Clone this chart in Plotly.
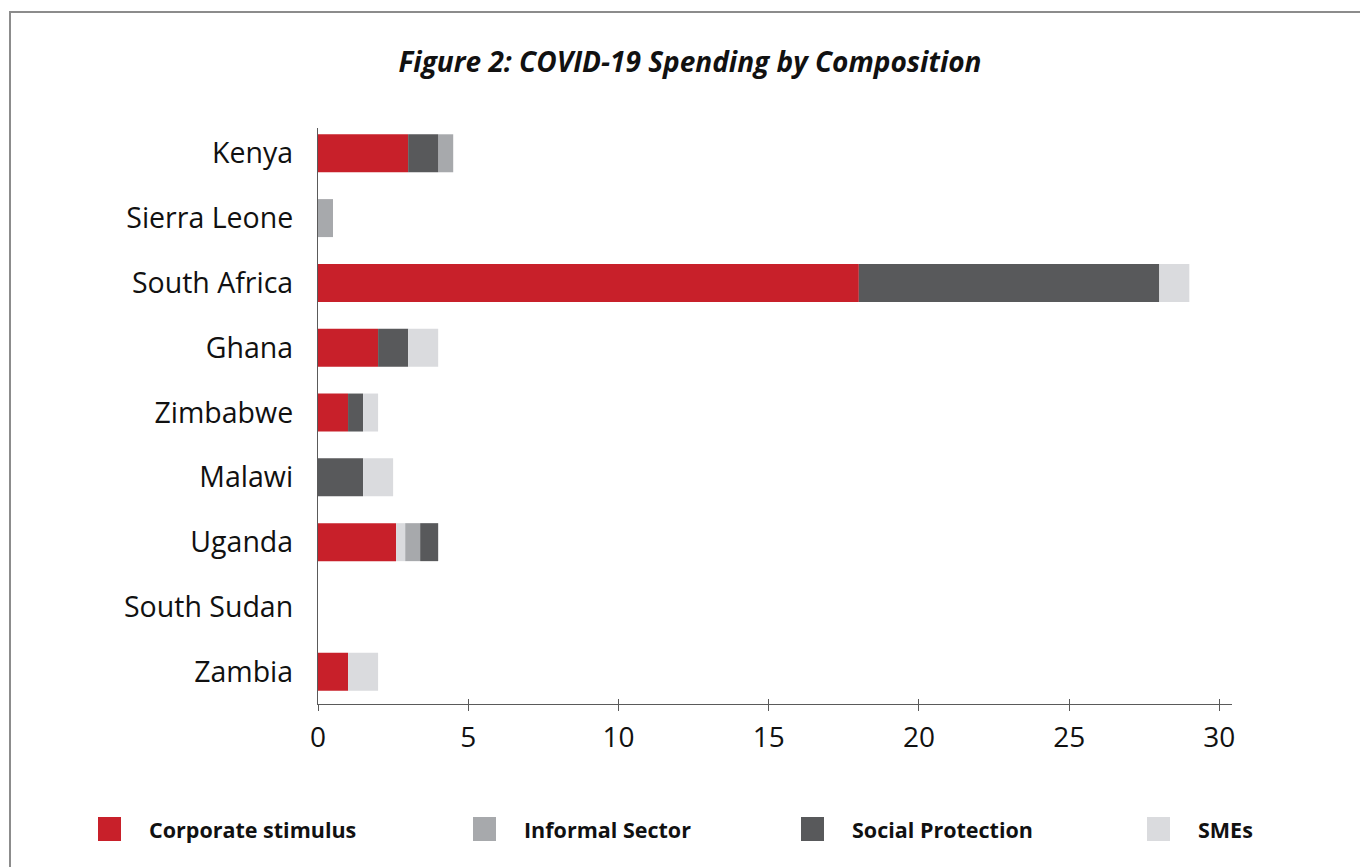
import plotly.graph_objects as go

# ---- data ----
countries = ["Kenya", "Sierra Leone", "South Africa", "Ghana", "Zimbabwe",
             "Malawi", "Uganda", "South Sudan", "Zambia"]
series_names = ["Corporate stimulus", "Informal Sector", "Social Protection", "SMEs"]
corporate = [3, 0, 18, 2, 1, 0, 2.6, 0, 1]
informal = [0.5, 0.5, 0, 0, 0, 0, 0.5, 0, 0]
social = [1, 0, 10, 1, 0.5, 1.5, 0.6, 0, 0]
smes = [0, 0, 1, 1, 0.5, 1, 0.3, 0, 1]
# stacking order of segments within each bar (as in the original chart)
default_order = ["Corporate stimulus", "Social Protection", "Informal Sector", "SMEs"]
special_order = {"Uganda": ["Corporate stimulus", "SMEs", "Informal Sector", "Social Protection"]}
x_ticks = [0, 5, 10, 15, 20, 25, 30]

# ---- style ----
colors = {"Corporate stimulus": "#C8202A", "Informal Sector": "#A7A9AC",
          "Social Protection": "#58595B", "SMEs": "#DADBDE"}
FONT = "Open Sans"
W, H = 1360, 867
ML, MR, MT, MB = 318, 128, 128, 163
PW, PH = W - ML - MR, H - MT - MB

values = {"Corporate stimulus": corporate, "Informal Sector": informal,
          "Social Protection": social, "SMEs": smes}

# compute base of each segment per country
bases = {s: [] for s in series_names}
for i, c in enumerate(countries):
    order = special_order.get(c, default_order)
    acc = 0.0
    for s in order:
        bases[s].append(acc)
        acc += values[s][i]

fig = go.Figure()
for s in series_names:
    fig.add_trace(go.Bar(
        y=countries, x=values[s], base=bases[s], orientation="h",
        name=s, marker=dict(color=colors[s], line=dict(width=0)),
        showlegend=False, hovertemplate="%{y}: %{x}<extra>" + s + "</extra>"))

# invisible trace on overlay axis for the inside part of crossing ticks
fig.add_trace(go.Scatter(x=[None], y=[None], xaxis="x2", yaxis="y", showlegend=False))

axis_col = "#5a5a5a"
fig.update_layout(
    width=W, height=H,
    margin=dict(l=ML, r=MR, t=MT, b=MB, pad=0),
    paper_bgcolor="white", plot_bgcolor="white",
    barmode="overlay", bargap=0.414,
    font=dict(family=FONT, color="#1a1a1a"),
    title=dict(text="Figure 2: COVID-19 Spending by Composition",
               font=dict(family=FONT, size=28, weight="bold", style="italic", color="#111"),
               xref="container", x=690 / W, xanchor="center",
               yref="container", y=1 - 62 / H, yanchor="middle"),
    xaxis=dict(range=[0, 30.42], tickvals=x_ticks, ticktext=[str(t) for t in x_ticks],
               showgrid=False, zeroline=False, showline=True, linecolor=axis_col, linewidth=1.3,
               ticks="outside", ticklen=6, tickwidth=1.3, tickcolor=axis_col,
               tickfont=dict(family=FONT, size=28, color="#111"), ticklabelstandoff=2,
               fixedrange=True),
    xaxis2=dict(overlaying="x", matches="x", range=[0, 30.42], tickvals=x_ticks,
                showticklabels=False, showgrid=False, zeroline=False, showline=False,
                ticks="inside", ticklen=5, tickwidth=1.3, tickcolor=axis_col, side="bottom"),
    yaxis=dict(categoryorder="array", categoryarray=countries,
               range=[len(countries) - 1 + 0.497, -0.39],
               showgrid=False, zeroline=False, showline=True, linecolor=axis_col, linewidth=1.3,
               ticks="", tickfont=dict(family=FONT, size=28.5, color="#111"),
               ticklabelstandoff=18, fixedrange=True),
)

# outer frame
def px_x(p):
    return (p - ML) / PW

def px_y(p):
    return (H - MB - p) / PH

fig.add_shape(type="rect", xref="paper", yref="paper",
              x0=px_x(10), x1=px_x(W + 50), y0=px_y(12), y1=px_y(H + 50),
              line=dict(color="#8c8c8c", width=2), fillcolor="rgba(0,0,0,0)", layer="below")

# legend (drawn manually to match the large square swatches)
legend_marker_left = [98, 473, 801, 1147]
for s, lx in zip(series_names, legend_marker_left):
    fig.add_shape(type="rect", xref="paper", yref="paper",
                  x0=px_x(lx), x1=px_x(lx + 23), y0=px_y(841), y1=px_y(817),
                  line=dict(width=0), fillcolor=colors[s])
    fig.add_annotation(xref="paper", yref="paper", x=px_x(lx + 49), y=px_y(829),
                       xanchor="left", yanchor="middle", showarrow=False, text="<b>" + s + "</b>",
                       font=dict(family=FONT, size=21.5, color="#111"))

fig.write_html("out.html")
